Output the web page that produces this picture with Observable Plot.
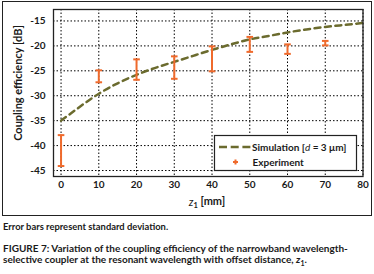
<!DOCTYPE html>
<html><head><meta charset="utf-8">
<script src="https://cdn.jsdelivr.net/npm/d3@7"></script>
<script src="https://cdn.jsdelivr.net/npm/@observablehq/plot@0.6"></script>
<style>
body{margin:0;background:#fff;font-family:Lato,sans-serif;color:#1a1a1a;}
#chart svg{display:block;margin:1px 0 0 2px;border:1px solid #222;}
.note{position:absolute;left:3px;top:221px;font-size:9.4px;line-height:12px;font-weight:bold;white-space:nowrap;}
.cap{position:absolute;left:3px;top:243px;font-size:10px;line-height:11px;font-weight:bold;white-space:nowrap;}
.cap sub{font-size:7px;line-height:0;}
</style></head><body>
<div id="chart"></div>
<div class="note">Error bars represent standard deviation.</div>
<div class="cap">FIGURE 7: Variation of the coupling efficiency of the narrowband wavelength-<br>selective coupler at the resonant wavelength with offset distance, <i>z</i><sub>1</sub>.</div>
<script>
// Experiment (z1 in mm, coupling efficiency in dB)
const zExp = [0, 10, 20, 30, 40, 50, 60, 70];
const expMean = [-40.7, -25.8, -24.8, -24.4, -22.7, -19.7, -20.5, -19.5];
const expLow = [-44.1, -27.3, -26.8, -26.6, -25.1, -21.2, -21.6, -19.9];
const expHigh = [-37.9, -24.9, -22.7, -22.1, -20.1, -18.2, -19.7, -19.0];
// Simulation [d = 3 µm]
const zSim = [0, 5, 10, 15, 20, 25, 30, 35, 40, 45, 50, 55, 60, 65, 70, 75, 80];
const simVal = [-35.0, -32.2, -29.6, -27.5, -25.8, -24.4, -23.2, -22.0, -20.8, -19.7, -18.7, -18.0, -17.3, -16.7, -16.2, -15.8, -15.4];
// ticks
const xTicks = [0, 10, 20, 30, 40, 50, 60, 70, 80];
const yTicks = [-45, -40, -35, -30, -25, -20, -15];

const ORANGE = "#ef6a2c";
const OLIVE = "#6b6b2e";

const expRows = zExp.map((z, i) => ({z, mean: expMean[i], low: expLow[i], high: expHigh[i]}));
const simRows = zSim.map((z, i) => ({z, v: simVal[i]}));

const capSymbol = {draw(ctx, size){const r = Math.sqrt(size/Math.PI); ctx.moveTo(-r,0); ctx.lineTo(r,0);}};

const plot = Plot.plot({
  width: 368, height: 213,
  marginLeft: 50, marginRight: 8.5, marginTop: 7, marginBottom: 39,
  style: {fontFamily: "Lato, sans-serif", fontSize: "10px", fontWeight: "bold", color: "#1a1a1a", background: "#fff"},
  x: {domain: [-2, 80], ticks: xTicks, tickSize: 0, tickPadding: 4, tickFormat: d => String(d), label: null},
  y: {domain: [-46.2, -12.7], ticks: yTicks, tickSize: 0, tickPadding: 8, tickFormat: d => String(d), label: null},
  marks: [
    Plot.gridX(xTicks, {stroke: "#000", strokeOpacity: 1, strokeDasharray: "1.5,2"}),
    Plot.gridY(yTicks, {stroke: "#000", strokeOpacity: 1, strokeDasharray: "1.5,2"}),
    Plot.line(simRows, {x: "z", y: "v", stroke: OLIVE, strokeWidth: 2.5, strokeDasharray: "6,4.5", curve: "natural"}),
    Plot.ruleX(expRows, {x: "z", y1: "low", y2: "high", stroke: ORANGE, strokeWidth: 2}),
    Plot.dot(expRows, {x: "z", y: "low", symbol: capSymbol, r: 3.3, stroke: ORANGE, strokeWidth: 2}),
    Plot.dot(expRows, {x: "z", y: "high", symbol: capSymbol, r: 3.3, stroke: ORANGE, strokeWidth: 2}),
    Plot.dot(expRows, {x: "z", y: "mean", symbol: "plus", r: 2.2, fill: ORANGE, stroke: null}),
    Plot.frame({stroke: "#222", strokeWidth: 1.3})
  ]
});
document.getElementById("chart").appendChild(plot);

const svg = d3.select(plot);
const labels = svg.append("g").attr("font-family", "Lato, sans-serif").attr("font-weight", "bold").attr("fill", "#1a1a1a").attr("font-size", 11);
// y axis label
labels.append("text").attr("transform", "translate(15,81) rotate(-90)").attr("text-anchor", "middle").attr("dy", "0.35em").text("Coupling efficiency [dB]");
// x axis label with italic z and subscript 1
const xl = labels.append("text").attr("x", 204).attr("y", 199.7).attr("text-anchor", "middle").attr("dy", "0.35em");
xl.append("tspan").attr("font-style", "italic").attr("font-weight", "normal").text("z");
xl.append("tspan").attr("font-size", 7.5).attr("dy", "0.3em").text("1");
xl.append("tspan").attr("dy", "-0.3em").text(" [mm]");

// legend (inside plot area, lower right)
const lg = svg.append("g").attr("font-family", "Lato, sans-serif").attr("font-size", 10).attr("font-weight", "bold").attr("text-anchor", "start");
lg.append("rect").attr("x", 211.5).attr("y", 133.5).attr("width", 142).attr("height", 35).attr("fill", "#fff").attr("stroke", "#222").attr("stroke-width", 1.2);
// dashed line sample: three dashes
[216, 227.7, 239.4].forEach(x0 => {
  lg.append("rect").attr("x", x0).attr("y", 143.75).attr("width", 8).attr("height", 2.5).attr("fill", OLIVE);
});
const t1 = lg.append("text").attr("x", 249).attr("y", 145).attr("dy", "0.35em").attr("text-anchor", "start").attr("fill", "#1a1a1a");
t1.append("tspan").text("Simulation [");
t1.append("tspan").attr("font-style", "italic").attr("font-weight", "normal").text("d");
t1.append("tspan").text(" = 3 μm]");
// experiment marker: small plus
lg.append("rect").attr("x", 230).attr("y", 159).attr("width", 5).attr("height", 2).attr("fill", ORANGE);
lg.append("rect").attr("x", 231.5).attr("y", 157.5).attr("width", 2).attr("height", 5).attr("fill", ORANGE);
lg.append("text").attr("x", 249.5).attr("y", 160).attr("dy", "0.35em").attr("text-anchor", "start").attr("fill", "#1a1a1a").text("Experiment");
</script>
</body></html>
